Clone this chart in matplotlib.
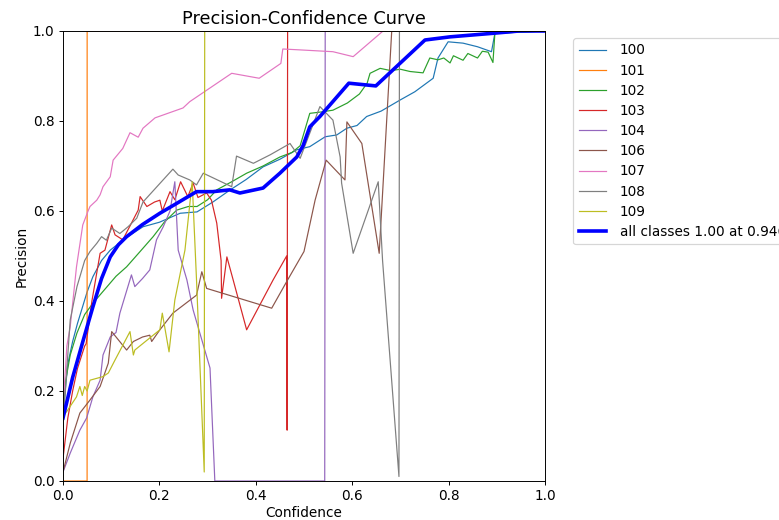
import matplotlib
matplotlib.use('Agg')
import matplotlib.pyplot as plt

plt.rcParams.update({
    'font.size': 11.4,
    'axes.titlesize': 14.8,
})

# confidence / precision samples per class
c100_x = [0, 0.01, 0.02, 0.03, 0.05, 0.062, 0.08, 0.098, 0.13, 0.166, 0.2, 0.243, 0.278, 0.311,
          0.347, 0.38, 0.415, 0.45, 0.485, 0.512, 0.544, 0.568, 0.589, 0.61, 0.63, 0.66, 0.7,
          0.73, 0.768, 0.778, 0.799, 0.83, 0.86, 0.889, 0.896, 1.0]
c100_y = [0.15, 0.26, 0.31, 0.35, 0.42, 0.454, 0.49, 0.513, 0.54, 0.565, 0.575, 0.595, 0.598, 0.62,
          0.647, 0.67, 0.698, 0.715, 0.736, 0.743, 0.765, 0.769, 0.784, 0.79, 0.81, 0.822, 0.847,
          0.865, 0.895, 0.94, 0.976, 0.973, 0.965, 0.954, 0.995, 1.0]

c101_x = [0, 0.05, 0.0501, 1.0]
c101_y = [0.0, 0.0, 1.0, 1.0]

c102_x = [0, 0.005, 0.015, 0.029, 0.045, 0.062, 0.09, 0.11, 0.132, 0.16, 0.187, 0.21, 0.236, 0.26,
          0.278, 0.3, 0.319, 0.35, 0.381, 0.415, 0.45, 0.475, 0.492, 0.512, 0.535, 0.56, 0.59,
          0.615, 0.631, 0.637, 0.658, 0.68, 0.7, 0.72, 0.747, 0.761, 0.778, 0.79, 0.803, 0.81,
          0.83, 0.84, 0.86, 0.87, 0.882, 0.892, 0.896, 1.0]
c102_y = [0.14, 0.22, 0.28, 0.329, 0.37, 0.395, 0.43, 0.455, 0.476, 0.51, 0.543, 0.575, 0.602, 0.61,
          0.61, 0.625, 0.647, 0.665, 0.684, 0.70, 0.72, 0.73, 0.745, 0.817, 0.82, 0.824, 0.84,
          0.86, 0.884, 0.906, 0.917, 0.912, 0.915, 0.91, 0.907, 0.94, 0.936, 0.94, 0.929, 0.945,
          0.935, 0.95, 0.94, 0.955, 0.953, 0.93, 0.995, 1.0]

c103_x = [0, 0.01, 0.02, 0.03, 0.045, 0.048, 0.06, 0.077, 0.087, 0.101, 0.108, 0.124, 0.142, 0.156,
          0.16, 0.174, 0.19, 0.201, 0.206, 0.222, 0.232, 0.244, 0.259, 0.27, 0.28, 0.298, 0.308,
          0.319, 0.328, 0.329, 0.34, 0.353, 0.381, 0.436, 0.464, 0.465, 0.466, 1.0]
c103_y = [0.05, 0.14, 0.2, 0.25, 0.3, 0.305, 0.4, 0.506, 0.513, 0.569, 0.547, 0.536, 0.573, 0.602,
          0.632, 0.61, 0.62, 0.624, 0.6, 0.643, 0.625, 0.665, 0.632, 0.662, 0.63, 0.64, 0.624,
          0.573, 0.49, 0.406, 0.498, 0.447, 0.336, 0.447, 0.5, 0.113, 1.0, 1.0]

c104_x = [0, 0.015, 0.035, 0.049, 0.062, 0.077, 0.083, 0.098, 0.11, 0.118, 0.142, 0.149, 0.165,
          0.18, 0.194, 0.208, 0.222, 0.232, 0.239, 0.257, 0.27, 0.305, 0.315, 0.543, 0.544, 1.0]
c104_y = [0.02, 0.062, 0.113, 0.14, 0.187, 0.224, 0.28, 0.32, 0.33, 0.373, 0.458, 0.432, 0.45,
          0.469, 0.536, 0.565, 0.6, 0.665, 0.513, 0.447, 0.38, 0.251, 0.0, 0.0, 1.0, 1.0]

c106_x = [0, 0.015, 0.035, 0.056, 0.077, 0.094, 0.101, 0.132, 0.146, 0.165, 0.18, 0.184, 0.201,
          0.228, 0.277, 0.288, 0.298, 0.433, 0.464, 0.5, 0.523, 0.546, 0.585, 0.589, 0.62, 0.656,
          0.682, 1.0]
c106_y = [0.02, 0.084, 0.151, 0.18, 0.21, 0.262, 0.332, 0.291, 0.31, 0.32, 0.324, 0.31, 0.336,
          0.373, 0.413, 0.465, 0.428, 0.384, 0.443, 0.51, 0.624, 0.713, 0.669, 0.798, 0.75, 0.506,
          1.0, 1.0]

c107_x = [0, 0.008, 0.015, 0.028, 0.041, 0.052, 0.056, 0.07, 0.077, 0.083, 0.098, 0.104, 0.124,
          0.139, 0.156, 0.166, 0.191, 0.249, 0.263, 0.35, 0.407, 0.452, 0.456, 0.492, 0.56, 0.602,
          0.664, 1.0]
c107_y = [0.16, 0.3, 0.343, 0.476, 0.569, 0.6, 0.61, 0.624, 0.636, 0.654, 0.676, 0.713, 0.739,
          0.774, 0.764, 0.784, 0.807, 0.829, 0.843, 0.906, 0.895, 0.928, 0.96, 0.958, 0.954, 0.943,
          1.0, 1.0]

c108_x = [0, 0.008, 0.015, 0.029, 0.045, 0.056, 0.07, 0.08, 0.09, 0.101, 0.118, 0.135, 0.153,
          0.166, 0.228, 0.239, 0.263, 0.277, 0.291, 0.35, 0.36, 0.395, 0.43, 0.471, 0.492, 0.533,
          0.56, 0.575, 0.578, 0.602, 0.654, 0.663, 0.697, 0.698, 1.0]
c108_y = [0.12, 0.25, 0.358, 0.432, 0.49, 0.51, 0.528, 0.543, 0.535, 0.562, 0.55, 0.565, 0.584,
          0.62, 0.693, 0.68, 0.669, 0.658, 0.684, 0.654, 0.722, 0.706, 0.725, 0.75, 0.717, 0.832,
          0.802, 0.72, 0.662, 0.506, 0.665, 0.49, 0.01, 1.0, 1.0]

c109_x = [0, 0.01, 0.028, 0.035, 0.04, 0.045, 0.05, 0.056, 0.083, 0.094, 0.108, 0.139, 0.146,
          0.149, 0.201, 0.206, 0.22, 0.232, 0.253, 0.268, 0.277, 0.293, 0.294, 1.0]
c109_y = [0.143, 0.158, 0.187, 0.21, 0.19, 0.21, 0.2, 0.224, 0.232, 0.24, 0.269, 0.332, 0.28,
          0.291, 0.336, 0.373, 0.287, 0.402, 0.513, 0.665, 0.447, 0.02, 1.0, 1.0]

all_x = [0, 0.02, 0.042, 0.062, 0.08, 0.098, 0.115, 0.132, 0.165, 0.201, 0.236, 0.277, 0.311, 0.346,
         0.367, 0.415, 0.45, 0.485, 0.498, 0.512, 0.533, 0.593, 0.649, 0.751, 0.803, 0.893, 0.946, 1.0]
all_y = [0.14, 0.23, 0.313, 0.387, 0.45, 0.498, 0.525, 0.543, 0.57, 0.595, 0.617, 0.643, 0.643, 0.647,
         0.64, 0.651, 0.684, 0.72, 0.745, 0.787, 0.81, 0.884, 0.878, 0.98, 0.987, 0.995, 1.0, 1.0]

class_names = ['100', '101', '102', '103', '104', '106', '107', '108', '109']
class_curves = [(c100_x, c100_y), (c101_x, c101_y), (c102_x, c102_y), (c103_x, c103_y),
                (c104_x, c104_y), (c106_x, c106_y), (c107_x, c107_y), (c108_x, c108_y),
                (c109_x, c109_y)]

dpi = 779 / 9
fig = plt.figure(figsize=(9, 520 / dpi), dpi=dpi)
ax = fig.add_axes([63 / 779, 39 / 520, 482 / 779, 450 / 520])

for name, (xs, ys) in zip(class_names, class_curves):
    ax.plot(xs, ys, linewidth=1, label=name)
ax.plot(all_x, all_y, linewidth=3, color='blue', label='all classes 1.00 at 0.946')

ax.set_xlabel('Confidence', labelpad=2.5)
ax.set_ylabel('Precision')
ax.set_xlim(0, 1)
ax.set_ylim(0, 1)
ax.legend(bbox_to_anchor=(1.044, 1), loc='upper left', labelspacing=0.45, handletextpad=1.0)
ax.set_title('Precision-Confidence Curve')

fig.savefig('out.png', dpi=dpi, facecolor='white')
plt.close()
